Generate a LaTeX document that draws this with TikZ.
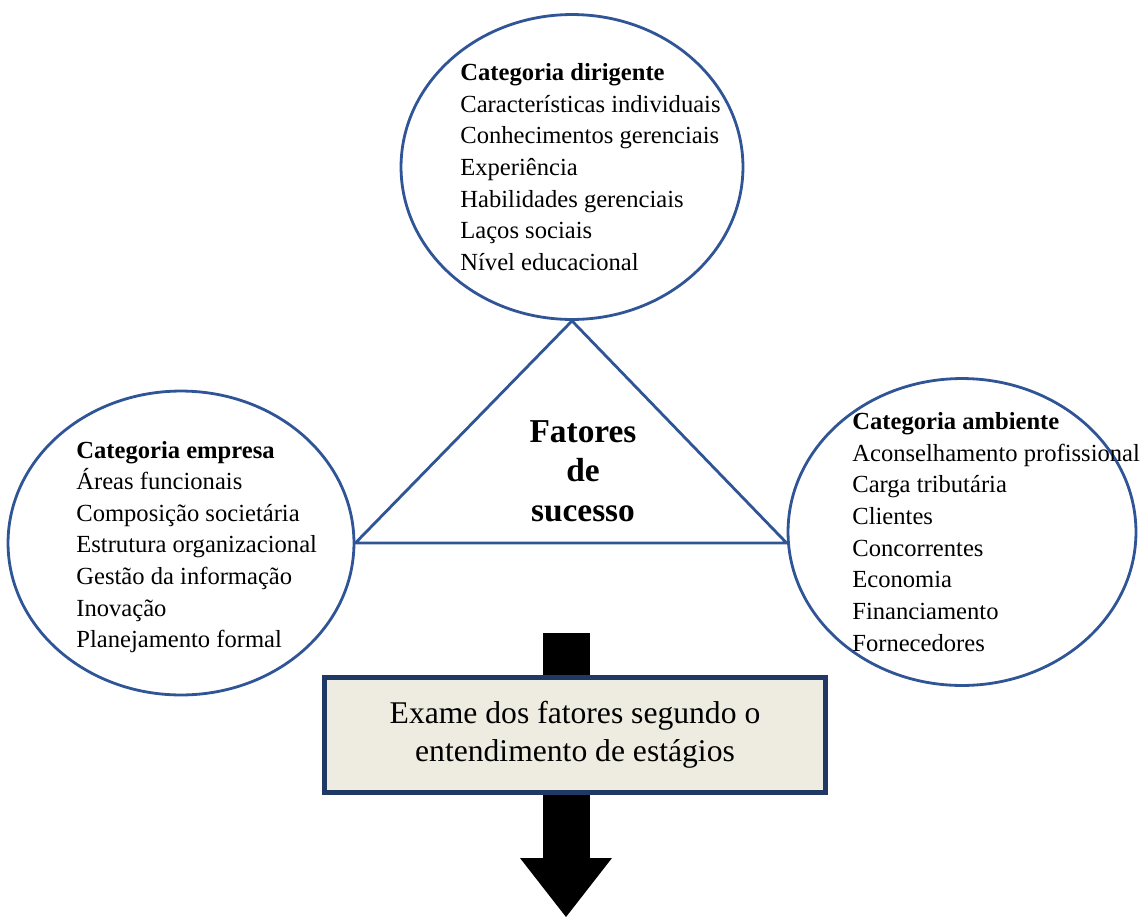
\documentclass[tikz,border=0pt]{standalone}
\usepackage{fontspec}
\setmainfont{Liberation Serif}
\usepackage{xcolor}
\usetikzlibrary{shapes}
\usetikzlibrary{arrows.meta}
\definecolor{azulcirc}{HTML}{2F5597}
\definecolor{azulcaixa}{HTML}{203864}
\definecolor{bege}{HTML}{EEECE1}

\begin{document}
\begin{tikzpicture}[x=0.02cm,y=-0.02cm,
  circ/.style={ellipse,draw=azulcirc,line width=1.6pt,inner sep=0pt},
  lista/.style={align=left,anchor=west,inner sep=0pt,font=\fontsize{14}{18}\selectfont}]
\useasboundingbox (0,0) rectangle (1143,917);
% os tres circulos
\node[circ,minimum width=6.84cm,minimum height=6.1cm] (dir) at (572,167) {};
\node[circ,minimum width=6.92cm,minimum height=6.08cm] (emp) at (181,543) {};
\node[circ,minimum width=6.96cm,minimum height=6.14cm] (amb) at (962,532) {};
% triangulo central
\draw [azulcirc,line width=1.6pt,join=round] (dir.south) -- (emp.east)
   -- (amb.west |- emp.east) -- cycle;
\node[font=\bfseries\fontsize{19}{22.5}\selectfont,align=center] (fat) at (583,471)
   {Fatores\\de\\sucesso};
% listas
\node[lista] (tdir) at (460,167) {\textbf{Categoria dirigente}\\
   Características individuais\\Conhecimentos gerenciais\\Experiência\\
   Habilidades gerenciais\\Laços sociais\\Nível educacional};
\node[lista] (temp) at (76,547) {\textbf{Categoria empresa}\\
   Áreas funcionais\\Composição societária\\Estrutura organizacional\\
   Gestão da informação\\Inovação\\Planejamento formal};
\node[lista] (tamb) at (852,532) {\textbf{Categoria ambiente}\\
   Aconselhamento profissional\\Carga tributária\\Clientes\\Concorrentes\\
   Economia\\Financiamento\\Fornecedores};
% seta e caixa
\coordinate (setaA) at (566,633);
\coordinate (setaB) at (566,917);
\draw [line width=0.94cm,-{Triangle[length=1.18cm,width=1.84cm,line width=0pt]}]
   (setaA) -- (setaB);
\node[draw=azulcaixa,line width=2.8pt,fill=bege,minimum width=10.02cm,
   minimum height=2.3cm,align=center,font=\fontsize{18}{21.6}\selectfont]
   (exame) at (575,735) {Exame dos fatores segundo o\\entendimento de estágios};
\end{tikzpicture}
\end{document}
